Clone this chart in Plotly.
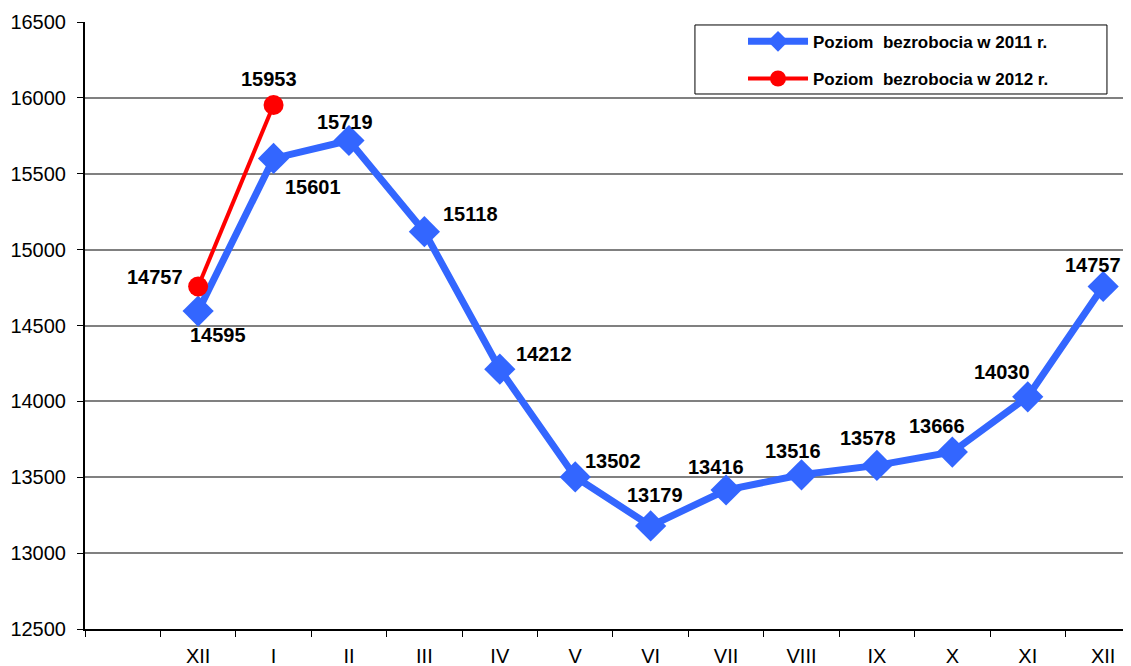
import plotly.graph_objects as go

month_labels = ["", "XII", "I", "II", "III", "IV", "V", "VI", "VII", "VIII", "IX", "X", "XI", "XII"]
x2011 = [1, 2, 3, 4, 5, 6, 7, 8, 9, 10, 11, 12, 13]
y2011 = [14595, 15601, 15719, 15118, 14212, 13502, 13179, 13416, 13516, 13578, 13666, 14030, 14757]
x2012 = [1, 2]
y2012 = [14757, 15953]
name2011 = "Poziom  bezrobocia w 2011 r."
name2012 = "Poziom  bezrobocia w 2012 r."

# label offsets in pixels (dx right, dy up) - styling only
off2011 = [(20, -24), (39, -29), (-4, 19), (46, 18), (44, 15), (38, 16), (4, 31),
           (-10, 23), (-8, 24), (-9, 27), (-15, 26), (-26, 25), (-10, 22)]
off2012 = [(-43, 10), (-5, 26)]

FONT = "Liberation Sans, Arial, sans-serif"

fig = go.Figure()
fig.add_trace(go.Scatter(
    x=x2011, y=y2011, mode="lines+markers", name=name2011, legendgroup="a",
    line=dict(color="#3366FF", width=7),
    marker=dict(symbol="diamond", size=24, color="#3366FF"),
))
fig.add_trace(go.Scatter(
    x=x2012, y=y2012, mode="lines+markers", name=name2012, legendgroup="b",
    line=dict(color="#FF0000", width=4),
    marker=dict(symbol="circle", size=20, color="#FF0000"),
))

for xs, ys, offs in ((x2011, y2011, off2011), (x2012, y2012, off2012)):
    for xv, yv, (dx, dy) in zip(xs, ys, offs):
        fig.add_annotation(x=xv, y=yv, text=str(yv), showarrow=False,
                           xanchor="center", yanchor="middle", xshift=dx, yshift=dy,
                           font=dict(family=FONT, size=20, color="black", weight="bold"))

# legend frame
fig.add_shape(type="rect", xref="paper", yref="paper",
              x0=0.5787, x1=0.9696, y0=0.8814, y1=0.9951,
              line=dict(color="black", width=1), fillcolor="white", layer="above")

fig.update_layout(
    width=1131, height=666,
    margin=dict(l=77, r=0, t=14, b=45, autoexpand=False),
    paper_bgcolor="white", plot_bgcolor="white",
    font=dict(family=FONT, size=20, color="black"),
    showlegend=True,
    legend=dict(
        x=0.6243, y=0.997, xanchor="left", yanchor="top",
        bgcolor="rgba(0,0,0,0)", borderwidth=0,
        font=dict(family=FONT, size=17, color="black", weight="bold"),
        itemwidth=60, traceorder="grouped", tracegroupgap=12,
    ),
)
fig.update_xaxes(
    range=[-0.5, 13.475], automargin=False,
    tickmode="array", tickvals=list(range(len(month_labels))), ticktext=month_labels,
    ticks="", showgrid=False, zeroline=False,
    showline=True, linecolor="black", linewidth=2,
    ticklabelstandoff=8,
    tickfont=dict(family=FONT, size=20),
    minor=dict(tickvals=[i + 0.5 for i in range(-1, 14)], ticks="outside", ticklen=6,
               tickcolor="black", tickwidth=1, showgrid=False),
)
fig.update_yaxes(
    range=[12500, 16500], dtick=500, tick0=12500, tickformat="d", automargin=False,
    showgrid=True, gridcolor="#808080", gridwidth=1.5,
    zeroline=False, showline=True, linecolor="black", linewidth=2,
    ticks="outside", ticklen=6, tickcolor="black",
    ticklabelstandoff=7,
    tickfont=dict(family=FONT, size=20),
)

fig.write_html("out.html")
